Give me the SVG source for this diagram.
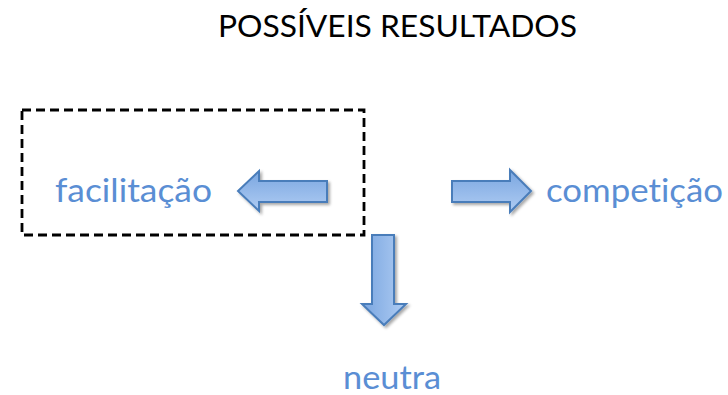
<svg xmlns="http://www.w3.org/2000/svg" width="728" height="395" viewBox="0 0 728 395">
<defs>
<linearGradient id="gh" x1="0" y1="0" x2="0" y2="1">
<stop offset="0" stop-color="#7AA6E0"/>
<stop offset="1" stop-color="#AFCCF3"/>
</linearGradient>
<linearGradient id="gv" x1="0" y1="0" x2="1" y2="0">
<stop offset="0" stop-color="#7AA6E0"/>
<stop offset="1" stop-color="#AFCCF3"/>
</linearGradient>
<filter id="sh" x="-20%" y="-20%" width="150%" height="150%">
<feGaussianBlur in="SourceAlpha" stdDeviation="1.5"/>
<feOffset dx="1.5" dy="2" result="b"/>
<feComponentTransfer><feFuncA type="linear" slope="0.35"/></feComponentTransfer>
<feMerge><feMergeNode/><feMergeNode in="SourceGraphic"/></feMerge>
</filter>
</defs>
<style>
text{font-variant-ligatures:none}
.lbl{font-family:Lato,"Liberation Sans",sans-serif;font-size:33px;fill:#5A8ED4}
.title{font-family:Lato,"Liberation Sans",sans-serif;font-size:31px;fill:#000}
.arr{stroke:#4A7DBA;stroke-width:2;stroke-linejoin:miter}
</style>
<text class="title" x="218" y="37" textLength="359" lengthAdjust="spacingAndGlyphs">POSSÍVEIS RESULTADOS</text>
<g id="box">
<rect x="22" y="110" width="342" height="125" fill="none" stroke="#000" stroke-width="2.8" stroke-dasharray="9 5"/>
</g>
<g id="facilitacao">
<text class="lbl" x="55" y="202" textLength="157" lengthAdjust="spacingAndGlyphs">facilitação</text>
</g>
<g id="competicao">
<text class="lbl" x="546" y="202" textLength="177" lengthAdjust="spacingAndGlyphs">competição</text>
</g>
<g id="neutra">
<text class="lbl" x="343" y="389" textLength="98" lengthAdjust="spacingAndGlyphs">neutra</text>
</g>
<g id="connectors" filter="url(#sh)">
<path class="arr" fill="url(#gh)" d="M327,181 L259,181 L259,171 L238,191 L259,211 L259,202 L327,202 Z"/>
<path class="arr" fill="url(#gh)" d="M452,181 L510,181 L510,170 L531,191 L510,212 L510,202 L452,202 Z"/>
<path class="arr" fill="url(#gv)" d="M372,235 L372,304 L362,304 L384,325 L406,304 L394,304 L394,235 Z"/>
</g>
</svg>
